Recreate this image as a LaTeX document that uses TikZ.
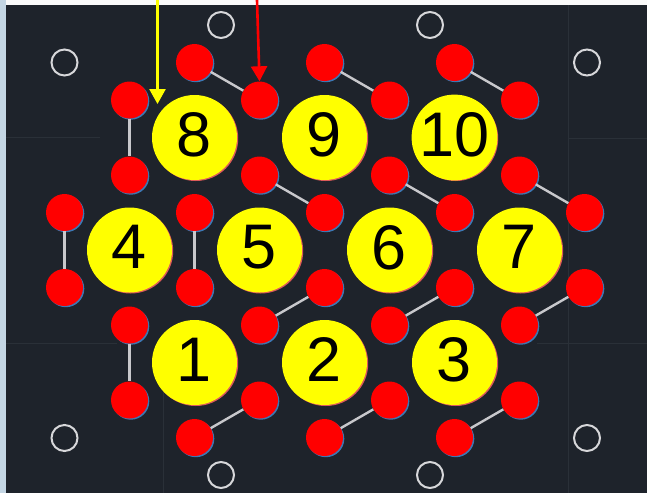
\documentclass[tikz,border=0pt]{standalone}
\usepackage{fontspec}
\setmainfont{Liberation Sans}
\usetikzlibrary{arrows.meta}
\definecolor{bgdark}{RGB}{30,35,43}
\definecolor{gridc}{RGB}{42,48,56}
\definecolor{stripblue}{RGB}{196,214,228}
\definecolor{bondc}{RGB}{200,200,204}
\definecolor{ringc}{RGB}{215,215,218}
\definecolor{dotshadow}{RGB}{60,120,180}
\definecolor{yshadow}{RGB}{220,90,90}
\definecolor{yel}{RGB}{255,255,0}
\tikzset{
  ybig/.style={circle,fill=yel,minimum size=85pt,inner sep=0pt,text depth=6pt,
    font=\fontsize{63}{63}\selectfont,text=black},
  rdot/.style={circle,fill=red,minimum size=37pt,inner sep=0pt},
  ring/.style={circle,draw=ringc,line width=2pt,minimum size=26pt,inner sep=0pt},
  bond/.style={draw=bondc,line width=2.4pt},
  gridline/.style={draw=gridc,line width=1pt},
  arr/.style={line width=2.6pt,-{Triangle[width=16pt,length=15pt]}}
}
\begin{document}
\begin{tikzpicture}[x=1pt,y=-1pt]
\useasboundingbox (0,0) rectangle (647,493);
% background
\fill[bgdark] (0,0) rectangle (647,493);
\fill[white!96!gray] (0,0) rectangle (647,5);
\fill[stripblue] (0,0) rectangle (6,493);
% faint grid
\draw[gridline] (6,137) -- (100,137);
\draw[gridline] (6,343) -- (117,343);
\draw[gridline] (163,345) -- (163,493);
\draw[gridline] (568,5) -- (568,493);
\draw[gridline] (568,138) -- (647,138);
\draw[gridline] (537,343) -- (647,343);
% open rings
\foreach \n/\x/\y in {o1/64.5/62.5,o2/221/25,o3/430/25,o4/587/62.5,o5/64.5/438,o6/221/475,o7/430/475,o8/587/438}
  \node[ring] (\n) at (\x,\y) {};
% yellow circles
\foreach \n/\x/\y in {8/194.5/137.5,9/324.5/137.5,10/454.5/137.5,4/129.5/250,5/259.5/250,6/389.5/250,7/519.5/250,1/194.5/362.5,2/324.5/362.5,3/454.5/362.5}{
  \fill[yshadow] (\x+1.2,\y+1) circle (42.5);
  \node[ybig] (Y\n) at (\x,\y) {\n};
}
% red dots
\foreach \n/\x/\y in {t1/194.5/62.5,t2/324.5/62.5,t3/454.5/62.5,
  a1/129.5/100,a2/259.5/100,a3/389.5/100,a4/519.5/100,
  b1/129.5/175,b2/259.5/175,b3/389.5/175,b4/519.5/175,
  c1/64.5/212.5,c2/194.5/212.5,c3/324.5/212.5,c4/454.5/212.5,c5/584.5/212.5,
  d1/64.5/287.5,d2/194.5/287.5,d3/324.5/287.5,d4/454.5/287.5,d5/584.5/287.5,
  e1/129.5/325,e2/259.5/325,e3/389.5/325,e4/519.5/325,
  f1/129.5/400,f2/259.5/400,f3/389.5/400,f4/519.5/400,
  g1/194.5/437.5,g2/324.5/437.5,g3/454.5/437.5}{
  \fill[dotshadow] (\x+1.3,\y+1.2) circle (18.5);
  \node[rdot] (\n) at (\x,\y) {};
}
% bonds
\foreach \p/\q in {t1/a2,t2/a3,t3/a4,a1/b1,b2/c3,b3/c4,b4/c5,c1/d1,c2/d2,e2/d3,e3/d4,e4/d5,e1/f1,g1/f2,g2/f3,g3/f4}
  \draw[bond] (\p) -- (\q);
% arrows
\coordinate (ya) at (157.5,0);
\coordinate (yt) at (157.5,104);
\coordinate (ra) at (257,0);
\draw[arr,yel] (ya) -- (yt);
\draw[arr,red] (ra) -- (a2.north);
\end{tikzpicture}
\end{document}
